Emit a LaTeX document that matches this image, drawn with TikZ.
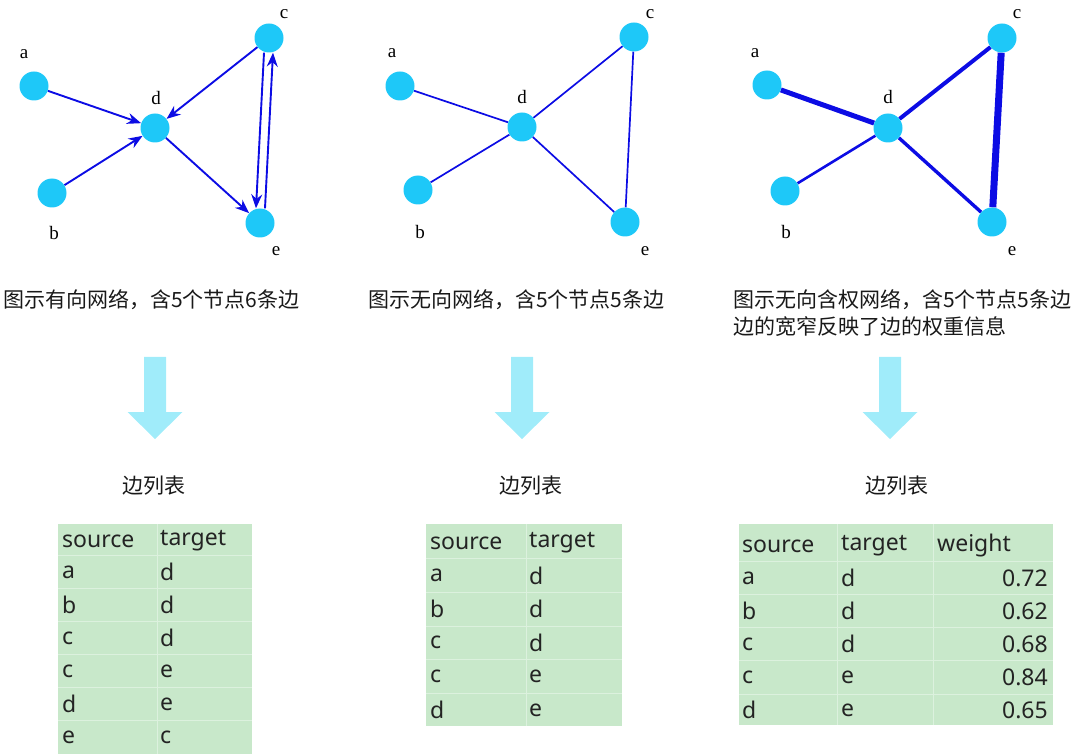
\documentclass[tikz,border=0pt]{standalone}
\usepackage{fontspec}
\setmainfont{Liberation Serif}
\newfontfamily\cjk{Noto Sans CJK SC}
\newfontfamily\tabfont{Noto Sans}
\usepackage{tikz}
\usetikzlibrary{arrows.meta,backgrounds}
\usepackage{xcolor}
\definecolor{NodeCyan}{RGB}{30,200,248}
\definecolor{EdgeBlue}{RGB}{12,12,228}
\definecolor{ArrowCyan}{RGB}{160,236,250}
\definecolor{TabGreen}{RGB}{200,232,202}
\definecolor{TabLine}{RGB}{220,241,222}
\definecolor{TabText}{RGB}{35,35,35}
\definecolor{CapText}{RGB}{25,25,25}

\begin{document}
\begin{tikzpicture}[x=1pt,y=-1pt,
  vtx/.style={circle,fill=NodeCyan,minimum size=29pt,inner sep=0pt},
  lbl/.style={font=\fontsize{19}{19}\selectfont,inner sep=0pt},
  link/.style={draw=EdgeBlue,line width=1.9pt},
  arr/.style={link,-{Stealth[length=14pt,width=11pt]}},
  captxt/.style={font=\cjk\fontsize{21}{27}\selectfont,text=CapText,anchor=west,align=left,inner sep=0pt},
  titletxt/.style={font=\cjk\fontsize{21}{21}\selectfont,text=CapText,inner sep=0pt},
  bigarrow/.style={fill=ArrowCyan},
  tabfill/.style={fill=TabGreen},
  tabgrid/.style={draw=TabLine,line width=1pt},
  cell/.style={font=\tabfont\fontsize{23}{23}\selectfont,text=TabText,anchor=west,inner sep=0pt},
  num/.style={cell,anchor=east},
]
\useasboundingbox (0,0) rectangle (1080,754);

% directed network
\node[vtx] (a1) at (34,86) {};
\node[vtx] (b1) at (52,193) {};
\node[vtx] (c1) at (269,38) {};
\node[vtx] (d1) at (155,128) {};
\node[vtx] (e1) at (260,223) {};
\node[lbl] (la1) at (24,54) {a};
\node[lbl] (lb1) at (54,233) {b};
\node[lbl] (lc1) at (284,14) {c};
\node[lbl] (ld1) at (156,98) {d};
\node[lbl] (le1) at (276,251) {e};
\begin{scope}[on background layer]
\draw[arr] (a1) -- (d1);
\draw[arr] (b1) -- (d1);
\draw[arr] (c1) -- (d1);
\draw[arr] (d1) -- (e1);
\draw[arr] ([xshift=-5pt]c1.south) -- ([xshift=-4pt]e1.north);
\draw[arr] ([xshift=5pt]e1.north) -- ([xshift=4pt]c1.south);
\end{scope}

% undirected network
\node[vtx] (a2) at (400,86) {};
\node[vtx] (b2) at (418,190) {};
\node[vtx] (c2) at (634,37) {};
\node[vtx] (d2) at (522,127) {};
\node[vtx] (e2) at (625,222) {};
\node[lbl] (la2) at (392,53) {a};
\node[lbl] (lb2) at (420,232) {b};
\node[lbl] (lc2) at (650,14) {c};
\node[lbl] (ld2) at (522,97) {d};
\node[lbl] (le2) at (645,251) {e};
\begin{scope}[on background layer]
\draw[link,line width=1.7pt] (a2) -- (d2);
\draw[link,line width=1.7pt] (b2) -- (d2);
\draw[link,line width=1.7pt] (c2) -- (d2);
\draw[link,line width=1.7pt] (d2) -- (e2);
\draw[link,line width=1.7pt] (c2) -- (e2);
\end{scope}

% weighted network
\node[vtx] (a3) at (767,85) {};
\node[vtx] (b3) at (785,191) {};
\node[vtx] (c3) at (1002,38) {};
\node[vtx] (d3) at (888,128) {};
\node[vtx] (e3) at (992,222) {};
\node[lbl] (la3) at (755,53) {a};
\node[lbl] (lb3) at (786,232) {b};
\node[lbl] (lc3) at (1017,14) {c};
\node[lbl] (ld3) at (888,97) {d};
\node[lbl] (le3) at (1012,251) {e};
\begin{scope}[on background layer]
\draw[link,line width=5pt] (a3) -- (d3);
\draw[link,line width=2.6pt] (b3) -- (d3);
\draw[link,line width=4pt] (c3) -- (d3);
\draw[link,line width=3.4pt] (d3) -- (e3);
\draw[link,line width=7pt] (c3) -- (e3);
\end{scope}

% captions
\node[captxt] (cap1) at (3,300) {图示有向网络，含5个节点6条边};
\node[captxt] (cap2) at (368,300) {图示无向网络，含5个节点5条边};
\node[captxt] (cap3) at (733,313.5) {图示无向含权网络，含5个节点5条边\\边的宽窄反映了边的权重信息};

% arrows
\fill[bigarrow] (144,357) -- (166,357) -- (166,412) -- (182.5,412) -- (155,439) -- (127.5,412) -- (144,412) -- cycle;
\fill[bigarrow] (511,357) -- (533,357) -- (533,412) -- (549.5,412) -- (522,439) -- (494.5,412) -- (511,412) -- cycle;
\fill[bigarrow] (879,357) -- (901,357) -- (901,412) -- (917.5,412) -- (890,439) -- (862.5,412) -- (879,412) -- cycle;

\node[titletxt] (t1) at (154,486) {边列表};
\node[titletxt] (t2) at (531,486) {边列表};
\node[titletxt] (t3) at (897,486) {边列表};

% table 1
\fill[tabfill] (58,524) rectangle (252,754);
\draw[tabgrid] (157,524) -- (157,754);
\foreach \y in {555,588,621,654,687,720} \draw[tabgrid] (58,\y) -- (252,\y);
\node[cell] (h11) at (62,541) {source};
\node[cell] (h12) at (160,541) {target};
\foreach \s/\t [count=\i] in {a/d,b/d,c/d,c/e,d/e,e/c} {
  \node[cell] (r1s\i) at (62,{539+33*\i}) {\s};
  \node[cell] (r1t\i) at (160,{539+33*\i}) {\t};
}

% table 2
\fill[tabfill] (426,524) rectangle (622,726);
\draw[tabgrid] (526,524) -- (526,726);
\foreach \y in {558,592,626,659,693} \draw[tabgrid] (426,\y) -- (622,\y);
\node[cell] (h21) at (430,543) {source};
\node[cell] (h22) at (529,543) {target};
\foreach \s/\t [count=\i] in {a/d,b/d,c/d,c/e,d/e} {
  \node[cell] (r2s\i) at (430,{542+33.6*\i}) {\s};
  \node[cell] (r2t\i) at (529,{542+33.6*\i}) {\t};
}

% table 3
\fill[tabfill] (739,524) rectangle (1053,725);
\draw[tabgrid] (837,524) -- (837,725);
\draw[tabgrid] (933,524) -- (933,725);
\foreach \y in {561,594,627,660,694} \draw[tabgrid] (739,\y) -- (1053,\y);
\node[cell] (h31) at (742,546) {source};
\node[cell] (h32) at (841,546) {target};
\node[cell] (h33) at (937,546) {weight};
\foreach \s/\t/\w [count=\i] in {a/d/0.72,b/d/0.62,c/d/0.68,c/e/0.84,d/e/0.65} {
  \node[cell] (r3s\i) at (742,{545+33*\i}) {\s};
  \node[cell] (r3t\i) at (841,{545+33*\i}) {\t};
  \node[num] (r3w\i) at (1048,{545+33*\i}) {\w};
}
\end{tikzpicture}
\end{document}
